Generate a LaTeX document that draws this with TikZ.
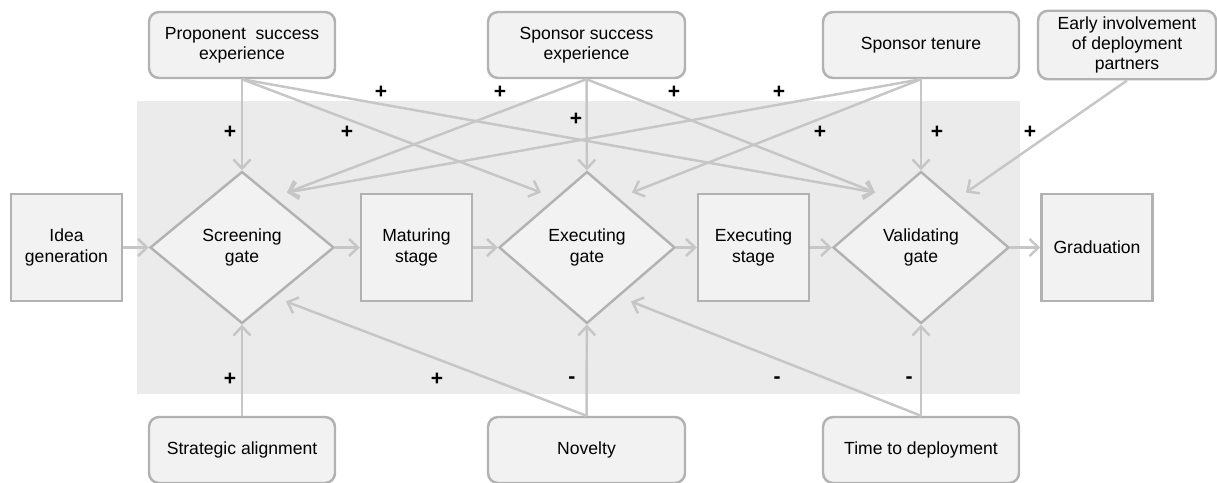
\documentclass[tikz,border=0pt]{standalone}
\usepackage{fontspec}
\setmainfont{Liberation Sans}
\usetikzlibrary{shapes.geometric,arrows.meta}
\definecolor{boxFill}{HTML}{F2F2F2}
\definecolor{boxLine}{HTML}{B2B2B2}
\definecolor{arrLine}{HTML}{C6C6C6}
\definecolor{bgGray}{HTML}{EBEBEB}

\begin{document}
\begin{tikzpicture}
        [nodeBox/.style={rectangle, draw=boxLine, fill=boxFill, line width=1.4pt, minimum width=2.22cm, minimum height=2.14cm, align=center, font=\fontsize{10}{11.5}\selectfont},
        nodeGate/.style={diamond, draw=boxLine, fill=boxFill, line width=1.4pt, minimum width=3.52cm, minimum height=3.04cm, inner sep=0pt, align=center, font=\fontsize{10}{11.5}\selectfont},
        nodeFactor/.style={rectangle, rounded corners=0.2cm, draw=boxLine, fill=boxFill, line width=1.4pt, minimum height=1.32cm, align=center, font=\fontsize{10}{11.5}\selectfont},
        sign/.style={inner sep=0pt, font=\fontsize{12}{14}\selectfont\bfseries},
        arr/.style={draw=arrLine, line width=1.4pt, -{Straight Barb[length=1.8mm,width=3.4mm]}}]
        \useasboundingbox (0,0) rectangle (24.34,-9.64);
        \fill[bgGray] (2.74,-2.02) rectangle (20.40,-7.88);

        % process row
        \node[nodeBox] (idea) at (1.33,-4.95) {Idea\\generation};
        \node[nodeGate, minimum width=3.68cm] (scr) at (4.84,-4.95) {Screening\\gate};
        \node[nodeBox] (mat) at (8.33,-4.95) {Maturing\\stage};
        \node[nodeGate] (exg) at (11.74,-4.95) {Executing\\gate};
        \node[nodeBox] (exs) at (15.07,-4.95) {Executing\\stage};
        \node[nodeGate] (val) at (18.42,-4.95) {Validating\\gate};
        \node[nodeBox] (grad) at (21.94,-4.95) {Graduation};

        % factors
        \node[nodeFactor, minimum width=3.72cm] (prop) at (4.84,-0.9) {Proponent~ success\\experience};
        \node[nodeFactor, minimum width=3.94cm] (spons) at (11.73,-0.9) {Sponsor success\\experience};
        \node[nodeFactor, minimum width=3.92cm] (ten) at (18.42,-0.9) {Sponsor tenure};
        \node[nodeFactor, minimum width=3.56cm] (early) at (22.54,-0.9) {Early involvement\\of deployment\\partners};
        \node[nodeFactor, minimum width=3.72cm] (strat) at (4.84,-9.0) {Strategic alignment};
        \node[nodeFactor, minimum width=3.94cm] (nov) at (11.73,-9.0) {Novelty};
        \node[nodeFactor, minimum width=3.92cm] (time) at (18.42,-9.0) {Time to deployment};

        \foreach \g in {scr,exg,val} {
            \coordinate (\g-ul) at ([shift={(-0.92,1.1)}]\g.center);
            \coordinate (\g-ur) at ([shift={(0.9,1.1)}]\g.center);
            \coordinate (\g-dr) at ([shift={(0.88,-1.08)}]\g.center);
        }

        \draw[arr] (idea) -- (scr);
        \draw[arr] (scr) -- (mat);
        \draw[arr] (mat) -- (exg);
        \draw[arr] (exg) -- (exs);
        \draw[arr] (exs) -- (val);
        \draw[arr] (val) -- (grad);

        \draw[arr] (prop) -- (scr);
        \draw[arr] (prop.south) -- (exg-ul);
        \draw[arr] (prop.south) -- (val-ul);
        \draw[arr] (spons) -- (exg);
        \draw[arr] (spons.south) -- (scr-ur);
        \draw[arr] (spons.south) -- (val-ul);
        \draw[arr] (ten) -- (val);
        \draw[arr] (ten.south) -- (exg-ur);
        \draw[arr] (ten.south) -- (scr-ur);
        \draw[arr] (early.south) -- (val-ur);

        \draw[arr] (strat) -- (scr);
        \draw[arr] (nov) -- (exg);
        \draw[arr] (nov.north) -- (scr-dr);
        \draw[arr] (time) -- (val);
        \draw[arr] (time.north) -- (exg-dr);

        % signs
        \node[sign] (sPropScr) at (4.6,-2.64) {+};
        \node[sign] (sPropExg) at (6.94,-2.64) {+};
        \node[sign] (sPropVal) at (7.62,-1.84) {+};
        \node[sign] (sSponsScr) at (10.0,-1.84) {+};
        \node[sign] (sSponsExg) at (11.52,-2.38) {+};
        \node[sign] (sSponsVal) at (13.48,-1.84) {+};
        \node[sign] (sTenScr) at (15.58,-1.84) {+};
        \node[sign] (sTenExg) at (16.4,-2.64) {+};
        \node[sign] (sTenVal) at (18.74,-2.64) {+};
        \node[sign] (sEarly) at (20.6,-2.64) {+};
        \node[sign] (sStrat) at (4.6,-7.58) {+};
        \node[sign] (sNovScr) at (8.74,-7.58) {+};
        \node[sign] (sNovExg) at (11.44,-7.6) {-};
        \node[sign] (sTimeExg) at (15.54,-7.6) {-};
        \node[sign] (sTimeVal) at (18.18,-7.6) {-};

\end{tikzpicture}
\end{document}
